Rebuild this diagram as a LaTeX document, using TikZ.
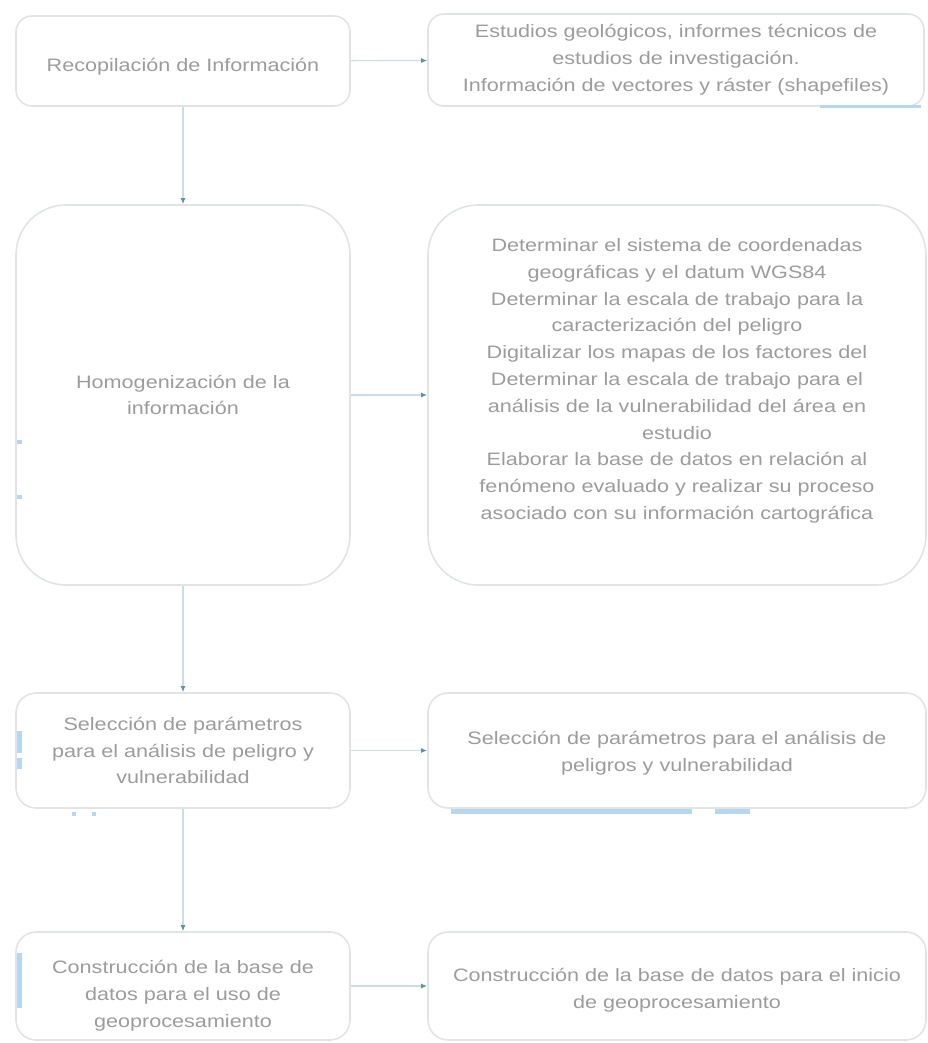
\documentclass[tikz,border=0pt]{standalone}
\usepackage{fontspec}
\setmainfont{Liberation Sans}[FakeStretch=1.2]
\usetikzlibrary{arrows.meta}
\definecolor{txt}{HTML}{9C9C9C}
\definecolor{bord}{HTML}{E2E4E4}
\definecolor{conn}{HTML}{C9DFE3}
\definecolor{tip}{HTML}{5E92AB}
\definecolor{mark}{HTML}{B5D8F0}
\newcommand{\upstrut}[1]{\rule{0pt}{#1}}
\newcommand{\downstrut}[1]{\rule[-#1]{0pt}{#1}}
\tikzset{
  box/.style={draw=bord, line width=1.6pt, fill=white, rounded corners=#1, align=center,
    text=txt, font=\fontsize{18}{26.8}\selectfont, inner sep=0pt},
  box/.default=16pt,
  conn/.style={draw=conn, line width=1.2pt, -{Latex[length=6pt,width=5pt,color=tip]}},
  markbar/.style={fill=mark, draw=none}
}
\begin{document}
\begin{tikzpicture}[x=1pt,y=-1pt]
\useasboundingbox (0,0) rectangle (928,1043);
% row 1
\node[box, minimum width=334pt, minimum height=90pt] (l1) at (183,61) {\upstrut{25pt}Recopilación de Información};
\node[box, minimum width=496pt, minimum height=92pt] (r1) at (676,60)
  {Estudios geológicos, informes técnicos de\\estudios de investigación.\\Información de vectores y ráster (shapefiles)};
% row 2
\node[box=50pt, minimum width=334pt, minimum height=380pt] (l2) at (183,395)
  {Homogenización de la\\información};
\node[box=50pt, minimum width=498pt, minimum height=380pt] (r2) at (677,395)
  {Determinar el sistema de coordenadas\\geográficas y el datum WGS84\\Determinar la escala de trabajo para la\\caracterización del peligro\\Digitalizar los mapas de los factores del\\Determinar la escala de trabajo para el\\análisis de la vulnerabilidad del área en\\estudio\\Elaborar la base de datos en relación al\\fenómeno evaluado y realizar su proceso\\asociado con su información cartográfica\downstrut{32pt}};
% row 3
\node[box=20pt, minimum width=334pt, minimum height=115pt] (l3) at (183,750.5)
  {Selección de parámetros\\para el análisis de peligro y\\vulnerabilidad};
\node[box=20pt, minimum width=498pt, minimum height=115pt] (r3) at (677,750.5)
  {\upstrut{19pt}Selección de parámetros para el análisis de\\peligros y vulnerabilidad};
% row 4
\node[box=20pt, minimum width=334pt, minimum height=108pt] (l4) at (183,986)
  {\upstrut{33pt}Construcción de la base de\\datos para el uso de\\geoprocesamiento};
\node[box=20pt, minimum width=498pt, minimum height=108pt] (r4) at (677,986)
  {\upstrut{21pt}Construcción de la base de datos para el inicio\\de geoprocesamiento};
% connectors
\draw[conn] (l1) -- (r1);
\draw[conn] (l2) -- (r2);
\draw[conn] (l3) -- (r3);
\draw[conn] (l4) -- (r4);
\draw[conn] (l1) -- (l2);
\draw[conn] (l2) -- (l3);
\draw[conn] (l3) -- (l4);
% light blue marks
\fill[markbar] (820,105) rectangle (921,108);
\fill[markbar] (17,440) rectangle (22,444);
\fill[markbar] (17,495) rectangle (22,499);
\fill[markbar] (17,731) rectangle (22,753);
\fill[markbar] (17,758) rectangle (22,769);
\fill[markbar] (72,812) rectangle (76,816);
\fill[markbar] (92,812) rectangle (96,816);
\fill[markbar] (451,809) rectangle (692,814);
\fill[markbar] (715,809) rectangle (750,814);
\fill[markbar] (17,953) rectangle (22,1008);
\end{tikzpicture}
\end{document}
